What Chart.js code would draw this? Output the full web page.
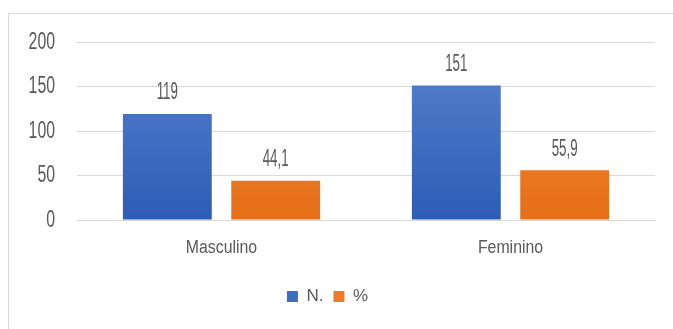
<!DOCTYPE html>
<html>
<head>
<meta charset="utf-8">
<script src="https://cdn.jsdelivr.net/npm/chart.js@4"></script>
<style>
  body { margin: 0; background: #fff; }
  #wrap { position: relative; width: 673px; height: 329px; overflow: hidden; }
  #frame { position: absolute; left: 8px; top: 13px; width: 700px; height: 400px; border: 1px solid #d9d9d9; }
  canvas { position: absolute; left: 0; top: 0; }
</style>
</head>
<body>
<div id="wrap">
  <div id="frame"></div>
  <canvas id="chart" width="673" height="329"></canvas>
</div>
<script>
// data
const categories = ["Masculino", "Feminino"];
const seriesNames = ["N.", "%"];
const countValues = [119, 151];
const percentValues = [44.1, 55.9];
const yTicks = [0, 50, 100, 150, 200];

const FONT = "'Liberation Sans', Arial, sans-serif";
const TEXT = "#595959";

function gradient(ctx, top, bottom) {
  const area = ctx.chart.chartArea;
  if (!area) return bottom;
  const g = ctx.chart.ctx.createLinearGradient(0, area.top, 0, area.bottom);
  g.addColorStop(0, top);
  g.addColorStop(1, bottom);
  return g;
}

// no narrow font installed, so squeeze the text horizontally
function narrowText(c, txt, x, y, size, sx, align) {
  c.save();
  c.translate(x, y);
  c.scale(sx, 1);
  c.font = size + "px " + FONT;
  c.fillStyle = TEXT;
  c.textAlign = align;
  c.textBaseline = "middle";
  c.fillText(txt, 0, 0);
  c.restore();
}

const narrowLabels = {
  id: "narrowLabels",
  afterDatasetsDraw(chart) {
    const c = chart.ctx;
    const ys = chart.scales.y;
    const xs = chart.scales.x;
    yTicks.forEach((v) => {
      narrowText(c, String(v), 55, ys.getPixelForValue(v), 24, 0.66, "right");
    });
    categories.forEach((cat, i) => {
      narrowText(c, cat, xs.getPixelForTick(i), chart.chartArea.bottom + 28, 18, 0.88, "center");
    });
    // value labels above bars (comma decimals)
    chart.data.datasets.forEach((ds, i) => {
      chart.getDatasetMeta(i).data.forEach((bar, j) => {
        const txt = String(ds.data[j]).replace(".", ",");
        narrowText(c, txt, bar.x, bar.y - 21, 23, 0.58, "center");
      });
    });
  }
};

new Chart(document.getElementById("chart"), {
  type: "bar",
  data: {
    labels: categories,
    datasets: [
      {
        label: seriesNames[0],
        data: countValues,
        backgroundColor: (ctx) => gradient(ctx, "#5b83d0", "#2c5cb5"),
        borderWidth: 0,
      },
      {
        label: seriesNames[1],
        data: percentValues,
        backgroundColor: (ctx) => gradient(ctx, "#f48a3c", "#e66f17"),
        borderWidth: 0,
      },
    ],
  },
  options: {
    responsive: false,
    animation: false,
    layout: { padding: { top: 42, right: 18, left: 0, bottom: 14 } },
    datasets: { bar: { barPercentage: 0.82, categoryPercentage: 0.75 } },
    scales: {
      y: {
        min: 0,
        max: 200,
        afterBuildTicks: (s) => { s.ticks = yTicks.map((v) => ({ value: v })); },
        afterFit: (s) => { s.width = 77; },
        grid: { color: "#d9d9d9", drawTicks: false },
        border: { display: false },
        ticks: { display: false },
      },
      x: {
        afterFit: (s) => { s.height = 58; },
        grid: { display: false },
        border: { color: "#d9d9d9" },
        ticks: { display: false },
      },
    },
    plugins: {
      legend: {
        position: "bottom",
        labels: {
          color: TEXT,
          font: { family: FONT, size: 17 },
          boxWidth: 11,
          boxHeight: 11,
          padding: 10,
          generateLabels: (chart) => chart.data.datasets.map((ds, i) => ({
            text: ds.label,
            fillStyle: i === 0 ? "#3e6cc3" : "#ef7b28",
            strokeStyle: "transparent",
            lineWidth: 0,
            fontColor: TEXT,
            datasetIndex: i,
          })),
        },
      },
      tooltip: { enabled: false },
    },
  },
  plugins: [narrowLabels],
});
</script>
</body>
</html>
